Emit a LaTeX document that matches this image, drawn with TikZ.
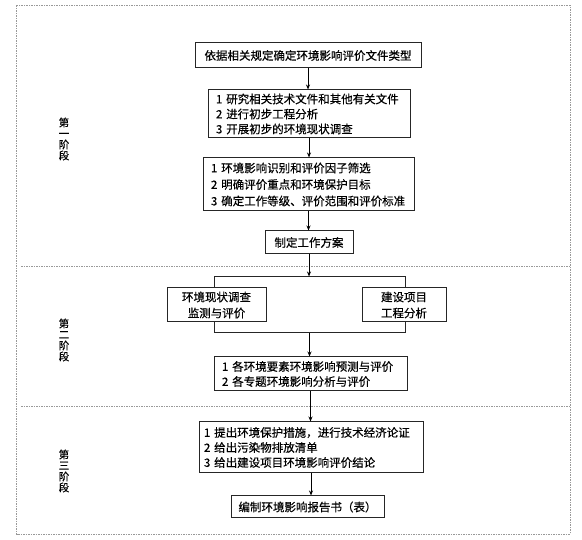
\documentclass[tikz,border=0pt]{standalone}
\usepackage{fontspec}
\setmainfont{Noto Sans CJK SC}[FakeBold=0.5]
\usetikzlibrary{arrows.meta}
\begin{document}
\begin{tikzpicture}[x=1pt,y=-1pt,
  box/.style={draw=black!85, line width=1pt, fill=white, inner sep=0pt, font=\fontsize{11.5}{15}\selectfont},
  listbox/.style={box, align=left, inner xsep=8pt},
  arr/.style={-{Stealth[length=5pt,width=4pt]}, line width=1pt},
  framebox/.style={draw=black!40, line width=0.7pt, dash pattern=on 1.5pt off 1pt},
  stage/.style={align=center, inner sep=0pt, font=\fontsize{10.5}{11}\selectfont}]
\useasboundingbox (0,0) rectangle (582,540);
% frame and dividers
\coordinate (fTL) at (16.5,5.5);
\coordinate (fBR) at (570,534);
\draw[framebox] (fTL) rectangle (fBR);
\coordinate (d1a) at (21,266);
\coordinate (d1b) at (570,266);
\coordinate (d2a) at (21,406);
\coordinate (d2b) at (570,406);
\draw[framebox] (d1a) -- (d1b);
\draw[framebox] (d2a) -- (d2b);
% stage labels
\node[stage] (s1) at (64,139) {第\\一\\阶\\段};
\node[stage] (s2) at (64,340) {第\\二\\阶\\段};
\node[stage] (s3) at (64,471) {第\\三\\阶\\段};
% boxes
\node[box, minimum width=226pt, minimum height=25pt] (b1) at (308,55.5) {依据相关规定确定环境影响评价文件类型};
\node[listbox, text width=186pt, minimum height=48pt] (b2) at (309,114) {1~研究相关技术文件和其他有关文件\\2~进行初步工程分析\\3~开展初步的环境现状调查};
\node[listbox, inner xsep=8pt, text width=195pt, minimum height=53pt, font=\fontsize{11.5}{16.5}\selectfont] (b3) at (308.5,184.5) {1~环境影响识别和评价因子筛选\\2~明确评价重点和环境保护目标\\3~确定工作等级、评价范围和评价标准};
\node[box, minimum width=88pt, minimum height=23pt] (b4) at (309,242.5) {制定工作方案};
\node[draw=black!85, line width=1pt, minimum width=191pt, minimum height=56pt, inner sep=0pt] (br) at (309.5,305) {};
\node[box, align=center, minimum width=99pt, minimum height=34pt, font=\fontsize{11.5}{16}\selectfont] (b5) at (216.5,305) {环境现状调查\\监测与评价};
\node[box, align=center, minimum width=84pt, minimum height=34pt, font=\fontsize{11.5}{16}\selectfont] (b6) at (404,305) {建设项目\\工程分析};
\node[listbox, text width=177pt, minimum height=34pt] (b7) at (310.5,374) {1~各环境要素环境影响预测与评价\\2~各专题环境影响分析与评价};
\node[listbox, inner xsep=5pt, text width=214pt, minimum height=51pt] (b8) at (311,447.5) {1~提出环境保护措施，进行技术经济论证\\2~给出污染物排放清单\\3~给出建设项目环境影响评价结论};
\node[box, minimum width=153pt, minimum height=22pt] (b9) at (307.5,507) {编制环境影响报告书（表）};
% arrows
\draw[arr] (b1.south) -- (b1.south |- b2.north);
\draw[arr] (b2.south) -- (b2.south |- b3.north);
\draw[arr] (b3.south) -- (b3.south |- b4.north);
\draw[arr] (b4.south) -- (b4.south |- br.north);
\draw[arr] (br.south) -- (br.south |- b7.north);
\draw[arr] (b7.south) -- (b7.south |- b8.north);
\draw[arr] (b8.south) -- (b8.south |- b9.north);
\end{tikzpicture}
\end{document}
